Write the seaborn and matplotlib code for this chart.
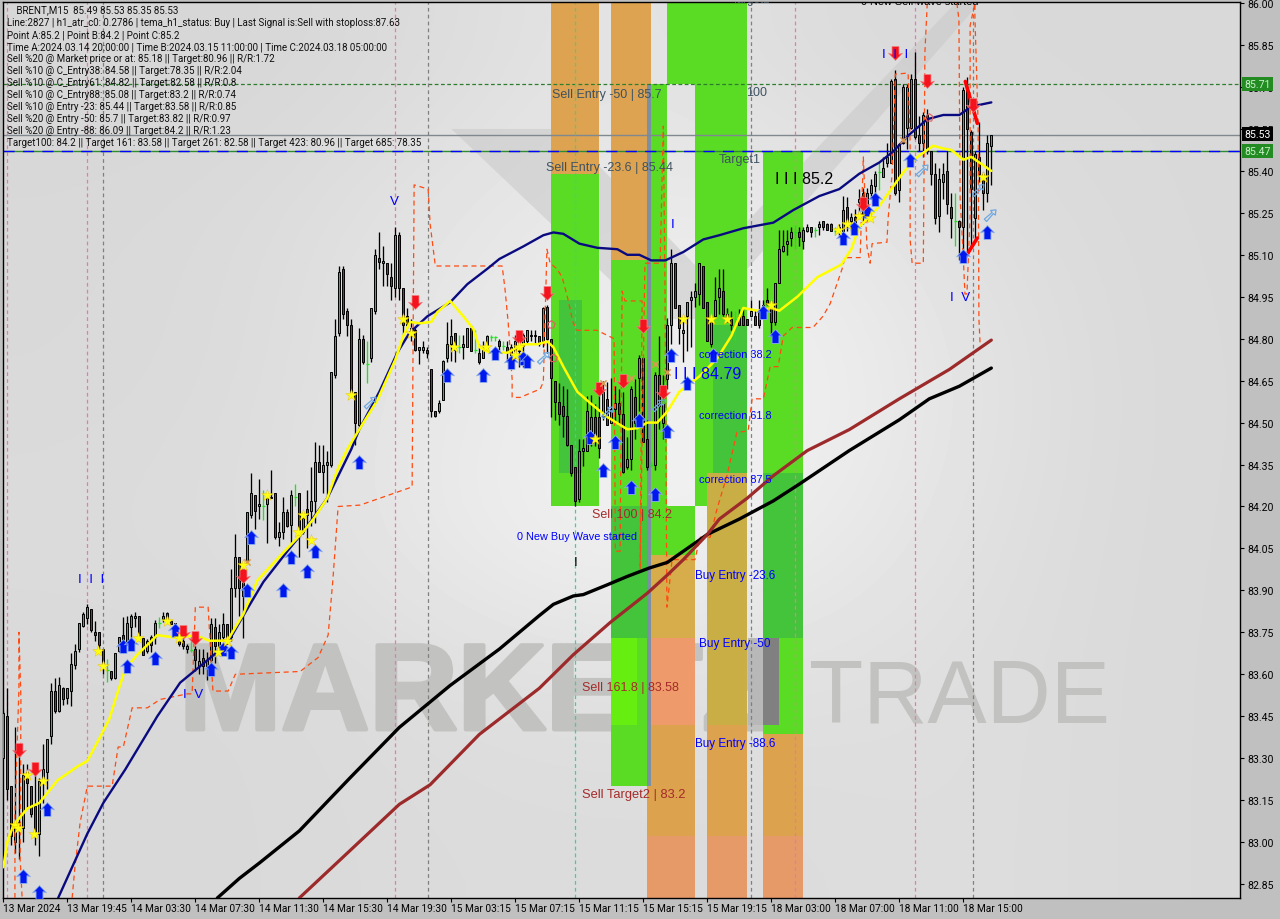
import numpy as np
import pandas as pd
import seaborn as sns
import matplotlib
matplotlib.use("Agg")
import matplotlib.pyplot as plt
import matplotlib.patheffects as pe
from matplotlib.path import Path
from matplotlib.patches import Polygon

sns.set_theme(style="white")
plt.rcParams["font.family"] = ["Liberation Sans", "DejaVu Sans"]

# ---------- price candles ----------
opens = [83.30,83.45,83.20,83.00,83.07,83.05,83.25,83.20,83.13,83.03,
 83.23,83.25,83.38,83.54,83.47,83.55,83.515,83.54,83.633,83.69,
 83.773,83.80,83.835,83.752,83.752,83.69,83.615,83.612,83.585,83.683,
 83.74,83.716,83.77,83.80,83.81,83.73,83.684,83.734,83.734,83.782,
 83.797,83.82,83.79,83.782,83.74,83.72,83.69,83.686,83.69,83.63,
 83.66,83.63,83.65,83.77,83.70,83.735,83.78,83.735,83.91,84.02,
 83.975,84.00,84.17,84.24,84.20,84.20,84.21,84.235,84.25,84.09,
 84.11,84.18,84.135,84.235,84.25,84.11,84.19,84.185,84.22,84.36,
 84.325,84.35,84.35,84.67,84.82,85.05,84.90,84.85,84.61,84.49,
 84.80,84.71,84.73,84.90,85.09,85.07,85.07,85.02,84.98,85.17,
 84.98,84.88,84.84,84.83,84.76,84.76,84.76,84.69,84.54,84.54,
 84.58,84.73,84.78,84.82,84.77,84.77,84.77,84.84,84.76,84.75,
 84.73,84.755,84.805,84.805,84.79,84.775,84.77,84.74,84.755,84.775,
 84.775,84.79,84.815,84.81,84.81,84.79,84.915,84.80,84.65,84.575,
 84.56,84.525,84.42,84.34,84.225,84.40,84.40,84.45,84.52,84.52,
 84.52,84.585,84.50,84.55,84.57,84.53,84.34,84.37,84.59,84.66,
 84.73,84.44,84.35,84.35,84.67,84.50,84.655,84.85,85.07,84.92,
 84.82,84.88,84.94,84.95,84.96,85.06,84.93,84.78,84.88,84.95,
 84.97,84.89,84.87,84.87,84.88,84.88,84.87,84.88,84.88,84.895,
 84.905,84.94,84.925,84.86,85.00,85.115,85.14,85.16,85.18,85.18,
 85.15,85.185,85.20,85.19,85.20,85.22,85.21,85.21,85.185,85.18,
 85.185,85.27,85.22,85.235,85.29,85.32,85.25,85.32,85.345,85.395,
 85.38,85.43,85.43,85.73,85.33,85.50,85.555,85.555,85.73,85.53,
 85.50,85.60,85.47,85.39,85.24,85.36,85.40,85.27,85.22,85.22,
 85.20,85.69,85.54,85.23,85.45,85.39,85.32,85.49]
highs = [83.47,83.55,83.20,83.41,83.34,83.28,83.28,83.20,83.27,83.23,
 83.35,83.37,83.57,83.585,83.59,83.555,83.55,83.675,83.71,83.784,
 83.824,83.853,83.835,83.79,83.752,83.69,83.653,83.612,83.675,83.734,
 83.806,83.81,83.817,83.824,83.81,83.73,83.727,83.74,83.794,83.806,
 83.824,83.824,83.794,83.782,83.752,83.728,83.71,83.74,83.70,83.69,
 83.69,83.68,83.80,83.80,83.78,83.82,83.78,83.975,84.10,84.02,
 83.975,84.18,84.32,84.24,84.30,84.26,84.245,84.33,84.25,84.145,
 84.235,84.19,84.26,84.28,84.25,84.18,84.26,84.34,84.43,84.42,
 84.42,84.40,84.68,84.87,85.06,85.06,84.91,84.87,84.61,84.84,
 84.815,84.79,84.91,85.12,85.18,85.13,85.07,85.07,85.20,85.18,
 84.98,84.91,84.87,84.84,84.77,84.79,84.77,84.69,84.54,84.58,
 84.725,84.86,84.87,84.82,84.815,84.815,84.84,84.85,84.83,84.78,
 84.79,84.815,84.815,84.81,84.80,84.79,84.79,84.78,84.815,84.815,
 84.82,84.83,84.83,84.83,84.81,84.915,84.92,84.80,84.65,84.64,
 84.63,84.62,84.42,84.34,84.44,84.44,84.595,84.60,84.565,84.63,
 84.65,84.645,84.66,84.63,84.62,84.61,84.45,84.63,84.655,84.74,
 84.735,84.51,84.36,84.68,84.81,84.67,84.875,85.12,85.07,84.92,
 84.87,84.93,84.97,85.00,85.07,85.06,84.93,84.88,85.02,85.05,
 85.05,84.91,84.90,84.90,84.905,84.91,84.87,84.94,84.905,84.94,
 84.94,84.98,84.94,85.00,85.19,85.19,85.19,85.20,85.205,85.20,
 85.20,85.21,85.20,85.20,85.22,85.22,85.215,85.215,85.20,85.21,
 85.31,85.305,85.25,85.265,85.335,85.34,85.34,85.37,85.40,85.43,
 85.45,85.50,85.73,85.76,85.50,85.71,85.71,85.745,85.825,85.595,
 85.61,85.62,85.47,85.43,85.41,85.43,85.47,85.32,85.32,85.225,
 85.70,85.735,85.545,85.47,85.575,85.395,85.53,85.53]
lows = [83.30,83.15,82.99,82.96,82.94,83.00,83.12,83.09,82.99,82.95,
 83.14,83.19,83.35,83.46,83.465,83.49,83.495,83.485,83.62,83.68,
 83.77,83.78,83.75,83.72,83.68,83.60,83.573,83.58,83.583,83.68,
 83.675,83.71,83.716,83.77,83.73,83.67,83.675,83.68,83.71,83.764,
 83.788,83.782,83.78,83.746,83.70,83.69,83.675,83.68,83.61,83.60,
 83.60,83.58,83.64,83.64,83.69,83.725,83.72,83.72,83.875,83.81,
 83.73,84.00,84.16,84.12,84.155,84.15,84.07,84.23,84.083,84.06,
 84.083,84.125,84.07,84.20,84.02,84.10,84.05,84.13,84.14,84.325,
 84.25,84.215,84.34,84.66,84.81,84.87,84.81,84.59,84.42,84.476,
 84.71,84.64,84.715,84.89,85.05,84.99,84.99,84.94,84.95,84.94,
 84.815,84.84,84.79,84.755,84.71,84.75,84.73,84.52,84.52,84.535,
 84.58,84.715,84.72,84.715,84.75,84.727,84.77,84.755,84.75,84.71,
 84.73,84.755,84.79,84.79,84.755,84.76,84.715,84.70,84.73,84.70,
 84.70,84.78,84.79,84.78,84.775,84.77,84.75,84.52,84.51,84.49,
 84.45,84.415,84.31,84.20,84.215,84.345,84.40,84.415,84.415,84.375,
 84.51,84.49,84.50,84.50,84.49,84.32,84.335,84.33,84.44,84.54,
 84.43,84.33,84.34,84.33,84.476,84.44,84.62,84.78,84.91,84.78,
 84.715,84.755,84.77,84.915,84.92,84.91,84.79,84.77,84.88,84.89,
 84.88,84.86,84.83,84.79,84.85,84.85,84.85,84.88,84.85,84.84,
 84.88,84.92,84.81,84.85,85.00,85.11,85.10,85.13,85.12,85.13,
 85.12,85.18,85.165,85.165,85.17,85.19,85.19,85.185,85.17,85.165,
 85.17,85.185,85.185,85.17,85.235,85.21,85.22,85.30,85.30,85.33,
 85.38,85.415,85.43,85.315,85.29,85.495,85.48,85.55,85.515,85.47,
 85.45,85.46,85.35,85.21,85.18,85.30,85.245,85.16,85.13,85.08,
 85.075,85.11,85.13,85.16,85.36,85.26,85.29,85.35]
closes = [83.46,83.19,83.02,83.07,83.06,83.24,83.21,83.10,83.04,83.22,
 83.26,83.37,83.54,83.47,83.56,83.51,83.55,83.635,83.684,83.784,
 83.814,83.84,83.76,83.74,83.704,83.64,83.615,83.585,83.675,83.734,
 83.687,83.784,83.81,83.81,83.74,83.67,83.72,83.704,83.784,83.782,
 83.81,83.788,83.78,83.752,83.71,83.70,83.70,83.686,83.65,83.648,
 83.63,83.65,83.78,83.70,83.75,83.78,83.735,83.91,84.02,83.91,
 83.88,84.18,84.25,84.185,84.21,84.20,84.235,84.23,84.09,84.11,
 84.18,84.13,84.24,84.235,84.12,84.16,84.17,84.22,84.36,84.325,
 84.35,84.36,84.68,84.81,85.04,84.89,84.85,84.61,84.50,84.80,
 84.715,84.71,84.91,85.10,85.075,85.077,85.03,84.99,85.17,84.98,
 84.85,84.85,84.815,84.76,84.77,84.77,84.75,84.54,84.525,84.57,
 84.72,84.78,84.81,84.76,84.77,84.78,84.84,84.755,84.76,84.715,
 84.76,84.81,84.805,84.805,84.775,84.775,84.755,84.77,84.79,84.755,
 84.815,84.83,84.81,84.815,84.78,84.91,84.80,84.66,84.575,84.53,
 84.525,84.42,84.32,84.22,84.40,84.41,84.54,84.52,84.43,84.41,
 84.61,84.49,84.55,84.57,84.53,84.325,84.37,84.62,84.50,84.73,
 84.43,84.34,84.35,84.67,84.56,84.565,84.85,85.07,84.91,84.84,
 84.83,84.93,84.95,84.97,85.07,84.91,84.79,84.87,84.94,84.98,
 84.89,84.87,84.85,84.87,84.85,84.85,84.85,84.90,84.85,84.85,
 84.92,84.925,84.86,85.00,85.12,85.13,85.15,85.18,85.18,85.165,
 85.19,85.20,85.18,85.19,85.21,85.20,85.19,85.185,85.185,85.20,
 85.26,85.215,85.235,85.20,85.30,85.245,85.32,85.35,85.39,85.395,
 85.41,85.45,85.72,85.32,85.495,85.70,85.70,85.73,85.52,85.50,
 85.60,85.47,85.39,85.23,85.37,85.39,85.28,85.23,85.22,85.20,
 85.69,85.55,85.335,85.46,85.39,85.32,85.50,85.53]

# ---------- moving averages (bar number, price) ----------
navy_x = [13.7,21,25,30.5,38.5,44.2,51,56,60,65,71,75,81,87,89,94,98.5,101.5,106,111.7,116,121,124,130,135,137.5,140,144,148.5,153.5,156,159,162,165.5,170,175,179,185,192.5,197.5,204,209,214,219,222.5,226.5,231,235,239,242,247]
navy_y = [82.80,83.03,83.14,83.26,83.45,83.57,83.65,83.71,83.81,83.93,84.04,84.11,84.23,84.405,84.476,84.61,84.75,84.82,84.88,84.93,84.995,85.05,85.085,85.13,85.17,85.18,85.175,85.14,85.125,85.12,85.10,85.10,85.08,85.08,85.11,85.155,85.17,85.195,85.215,85.26,85.31,85.335,85.39,85.43,85.47,85.53,85.585,85.60,85.60,85.63,85.645]
yellow_x = [0,1,2.5,6,9,13.5,18.5,21,24,26.5,28.7,30.5,33.5,38.5,43.5,48,51.5,56,60,63.5,69,75,77.5,81,83.5,86,89,93.5,98,100,101.7,104,107,108.5,111.7,115,117.5,119,121.5,126,130,133.5,136,137.5,140,143.5,146.7,151,156,158.5,161,163.5,166,169,174,178.5,182,185,188.5,192,194,198.5,203.5,209.5,212,214,218.5,222.5,225,228.5,232.5,235,237,240,242,247]
yellow_y = [82.91,83.0,83.06,83.12,83.14,83.22,83.27,83.29,83.37,83.44,83.54,83.62,83.67,83.74,83.73,83.74,83.72,83.72,83.815,83.935,84.02,84.11,84.155,84.23,84.33,84.405,84.476,84.58,84.725,84.81,84.86,84.855,84.86,84.895,84.935,84.88,84.835,84.77,84.75,84.75,84.78,84.78,84.79,84.77,84.70,84.61,84.57,84.52,84.476,84.48,84.50,84.50,84.54,84.61,84.665,84.73,84.81,84.91,84.90,84.91,84.90,84.95,85.02,85.065,85.12,85.20,85.265,85.345,85.395,85.45,85.49,85.48,85.475,85.44,85.45,85.40]
black_x = [53.5,59,64,74,86.7,99,111.7,124,134,137.5,142.5,145,151,156,161.5,166,170,176,184,192.5,199,211.5,224,231.5,239,247]
black_y = [82.80,82.87,82.925,83.04,83.23,83.41,83.56,83.69,83.81,83.85,83.88,83.885,83.92,83.95,83.98,84.00,84.04,84.10,84.155,84.22,84.28,84.40,84.51,84.585,84.63,84.695]
brown_x = [74,86.7,99,106.7,119,134,142.5,151.7,161,166,170,176,179,186,192.5,201,211.5,224,236.5,247]
brown_y = [82.80,82.97,83.135,83.205,83.385,83.55,83.67,83.785,83.89,83.955,84.01,84.10,84.155,84.23,84.31,84.40,84.475,84.585,84.69,84.795]

# ---------- dashed orange channel, three stretches ----------
orange1_x = [2.9,2.9,3.9,3.9,4.4,4.2,4.7]
orange1_y = [82.80,83.10,83.55,83.75,83.51,82.94,82.80]
orange2_x = [17.2,17.9,19.2,21,27.2,28.7,30,32.2,36,39.2,46,47.2,48,51.2,52.4,56.2,58,74.2,78.7,81.2,82.4,83.7,89.2,102.2,102.7,106.2,106.7,108,124.7,125.4,126.2,127.2,127.2,129.2,134.2,135,135.9,136.7,138.4,139.7,141,142.4,143.4,148.4,152.7,153,154.2,154.7,155.4,159.7,159.2,160.4,164.2,165,165.4,165.9,167.2,172.9,174.2,176.7,178.4,180.9,183.4,186.2,187.2,190,191.7,193.7,195,197.2,202.4,204.9,206.7,209.7,210.4,214.2,215,215.9,216.7,217.2,220.9,221.2,222.2,223,226.2,226.7,226.7,227.2,230,230.4,231]
orange2_y = [82.80,82.91,83.07,83.20,83.20,83.34,83.34,83.48,83.48,83.51,83.53,83.53,83.84,83.84,83.54,83.54,83.60,83.61,83.66,83.74,83.94,84.20,84.205,84.27,85.35,85.335,85.21,85.06,85.06,84.98,84.86,84.655,84.59,84.59,84.62,84.645,85.12,85.07,85.05,85.02,84.95,84.86,84.83,84.83,84.80,84.04,84.04,84.97,84.935,84.935,83.975,85.07,85.07,85.56,85.01,83.84,84.01,84.01,84.09,84.09,84.19,84.31,84.465,84.47,84.585,84.585,84.70,84.70,84.81,84.84,84.84,84.88,84.925,85.05,85.09,85.09,85.45,85.13,85.07,85.14,85.145,85.23,85.39,85.746,85.75,85.50,85.155,85.07,85.07,85.825,86.004]
orange3_x = [238.4,238.9,239.2,239.9,240.4,240.9,241.7,241.7,242.9,242.9,243.7,243.9,244.2]
orange3_y = [86.0,85.94,85.30,85.12,84.96,84.96,85.24,85.92,86.0,85.95,85.57,84.87,84.78]

# ---------- Fibonacci zones ----------
band_left  = [136.9,136.9,151.9,151.9,151.9,161.9,161.9,165.9,172.9,175.9,160.9,160.9,160.9,175.9,175.9,189.9,189.9,160.9,175.9,189.9,160.9,186.2,189.9]
band_right = [148.9,148.9,161.9,160.9,158.4,165.9,172.9,185.9,175.9,185.9,172.9,172.9,172.9,185.9,185.9,199.9,199.9,172.9,185.9,199.9,161.9,189.9,193.9]
band_low   = [85.39,84.20,85.08,83.20,83.42,84.20,84.025,85.71,84.20,84.32,83.73,83.42,82.80,83.42,82.80,83.385,82.80,82.80,82.80,82.80,83.20,83.42,83.42]
band_high  = [86.004,85.39,86.004,85.08,83.73,85.71,84.20,86.004,85.71,85.71,84.025,83.73,83.42,84.32,83.42,85.47,83.385,83.02,83.02,83.02,85.71,83.73,83.73]
band_shade = ["#DDA350","#5ADB24","#DDA350","#5ADB24","#66EE11","#5ADB24","#5ADB24","#5ADB24","#5ADB24","#5ADB24","#D6AD4A","#EE9A6B","#DDA24E","#C9AE45","#DDA24E","#5ADB24","#DDA24E","#E59A68","#E59A68","#E59A68","#7D8FA3","#B8B8B8","#808080"]
patch_left  = [139,151.9,177.5,189.9]
patch_right = [144.7,160.9,185.9,199.9]
patch_low   = [84.32,83.73,84.32,83.73]
patch_high  = [84.94,84.20,84.85,84.32]

# ---------- signals ----------
blue_x = [4.9,8.9,11,30,32,31,38,43,52,55,57,62,72,76,78,70,61,89,111,120,123,127,130,131,167,177.5,171,190,193,146.7,150,153,157,159,163,166,210,212.7,216,218,226.7,246,240]
blue_y = [82.88,82.82,83.12,83.70,83.71,83.63,83.66,83.76,83.62,83.69,83.68,84.09,84.02,83.97,84.04,83.90,83.90,84.36,84.67,84.67,84.75,84.715,84.73,84.72,84.74,84.74,84.64,84.895,84.81,84.45,84.33,84.43,84.27,84.51,84.245,84.47,85.16,85.195,85.255,85.30,85.44,85.18,85.095]
red_x = [4,8,45,48,60,103,129,136,149,155,160,165,215,223,231,242.5]
red_y = [83.33,83.26,83.75,83.73,83.95,84.93,84.805,84.965,84.62,84.65,84.845,84.61,85.28,85.82,85.72,85.635]
star_x = [3,3.7,6,10,7.7,23.7,25,33.7,41,44,53.7,56,60,66,73.7,75,77,87,100,102,112.7,120.7,128,129,148,170,177,181,192,208.7,211,214,216.7,245]
star_y = [83.06,83.05,83.24,83.22,83.03,83.685,83.63,83.73,83.79,83.73,83.68,83.72,83.99,84.24,84.11,84.17,84.08,84.60,84.87,84.82,84.77,84.77,84.74,84.77,84.44,84.87,84.87,84.87,84.92,85.19,85.21,85.24,85.23,85.38]
hollow_x = [91.7,135,151,163.7,229.7,243.7,246.7]
hollow_y = [84.57,84.73,84.535,84.56,85.40,85.33,85.24]
cross_x = [61,150,157,163,166,225]
cross_y = [84.00,84.64,84.66,84.71,84.68,85.51]
square_x = [137,137.5,231.5]
square_y = [84.85,84.73,85.59]
wave_up_x = [240,243.5]
wave_up_y = [85.08,85.16]
wave_dn_x = [240.5,243.5]
wave_dn_y = [85.72,85.57]

price_ticks = [86.00,85.85,85.70,85.55,85.40,85.25,85.10,84.95,84.80,84.65,84.50,84.35,84.20,84.05,83.90,83.75,83.60,83.45,83.30,83.15,83.00,82.85]
time_labels = ["13 Mar 2024","13 Mar 19:45","14 Mar 03:30","14 Mar 07:30","14 Mar 11:30","14 Mar 15:30","14 Mar 19:30","15 Mar 03:15","15 Mar 07:15","15 Mar 11:15","15 Mar 15:15","15 Mar 19:15","18 Mar 03:00","18 Mar 07:00","18 Mar 11:00","18 Mar 15:00"]
header_lines = [
 "    BRENT,M15  85.49 85.53 85.35 85.53",
 "Line:2827 | h1_atr_c0: 0.2786 | tema_h1_status: Buy | Last Signal is:Sell with stoploss:87.63",
 "Point A:85.2 | Point B:84.2 | Point C:85.2",
 "Time A:2024.03.14 20:00:00 | Time B:2024.03.15 11:00:00 | Time C:2024.03.18 05:00:00",
 "Sell %20 @ Market price or at: 85.18 || Target:80.96 || R/R:1.72",
 "Sell %10 @ C_Entry38: 84.58 || Target:78.35 || R/R:2.04",
 "Sell %10 @ C_Entry61: 84.82 || Target:82.58 || R/R:0.8",
 "Sell %10 @ C_Entry88: 85.08 || Target:83.2 || R/R:0.74",
 "Sell %10 @ Entry -23: 85.44 || Target:83.58 || R/R:0.85",
 "Sell %20 @ Entry -50: 85.7 || Target:83.82 || R/R:0.97",
 "Sell %20 @ Entry -88: 86.09 || Target:84.2 || R/R:1.23",
 "Target100: 84.2 || Target 161: 83.58 || Target 261: 82.58 || Target 423: 80.96 || Target 685: 78.35",
]

W, H = 1280, 920
fig = plt.figure(figsize=(W/100, H/100), dpi=100, facecolor="#C0C0C0")
ax = fig.add_axes([3/W, 1-899/H, 1237/W, 896/H])
ax.set_xlim(-0.083, 309.17)
ax.set_ylim(82.80, 86.004)
ax.set_facecolor("#D9D9D7")

def figtxt(px, py, s, **kw):
    kw.setdefault("va", "center")
    kw.setdefault("ha", "left")
    return fig.text(px/W, 1-py/H, s, **kw)

# background sheen
sheen = np.array([[.84,.84,.86,.90,.86,.85,.85],
                  [.85,.86,.90,.92,.92,.87,.85],
                  [.85,.86,.91,.93,.95,.89,.85],
                  [.86,.87,.92,.96,.93,.88,.85],
                  [.85,.85,.87,.88,.88,.87,.85],
                  [.85,.85,.86,.86,.86,.87,.85]])
ax.imshow(sheen, cmap="gray", vmin=0, vmax=1, aspect="auto", interpolation="bicubic",
          extent=[-0.083, 309.17, 82.80, 86.004], zorder=0)

# logo stripes + watermark
for pts in ([(112,85.55),(140,85.55),(186,84.87),(162,84.87)],
            ((178,85.1),(238,86.0),(244,86.0),(186,85.05))):
    ax.add_patch(Polygon(pts, closed=True, fc="#C8C8C8", ec="none", alpha=.55, zorder=.2))
ax.text(44, 83.403, "MARKETZ", fontsize=88, fontweight="bold", color="#C2C2C0",
        family="Liberation Sans", va="baseline", ha="left", zorder=.3,
        path_effects=[pe.withStroke(linewidth=3, foreground="#C2C2C0")])
ax.text(201.5, 83.43, "TRADE", fontsize=64, color="#C2C2C0",
        family="Liberation Sans", va="baseline", ha="left", zorder=.3)

# zones
bw = np.array(band_right) - np.array(band_left)
ax.bar(band_left, np.array(band_high)-np.array(band_low), width=bw, bottom=band_low,
       align="edge", color=band_shade, linewidth=0, zorder=1)
pw = np.array(patch_right) - np.array(patch_left)
ax.bar(patch_left, np.array(patch_high)-np.array(patch_low), width=pw, bottom=patch_low,
       align="edge", color="#43C43A", linewidth=0, zorder=1.1)

# level lines
ax.axhline(85.71, color="#2E7D2E", lw=.9, ls=(0, (3, 2)), zorder=2)
ax.axhline(85.53, color="#808890", lw=1.0, zorder=2)
ax.axhline(85.47, color="#2E8B2E", lw=1.0, zorder=2)
ax.axhline(85.47, color="#0000FF", lw=1.0, ls=(0, (8, 6)), zorder=2.1)

# session separators
for xv, c in ((0.9, "#E87AA8"), (20.9, "#E87AA8"), (24.9, "#808080"), (97.9, "#E87AA8"),
              (106.2, "#808080"), (142.9, "#30D890"), (186.9, "#808080"), (197.9, "#E87AA8"),
              (227.9, "#E87AA8"), (242.4, "#808080")):
    ax.axvline(xv, color=c, lw=.9, ls=(0, (3, 2.5)), zorder=2)

# candles
idx = np.arange(len(opens))
o, h, l, c = map(np.array, (opens, highs, lows, closes))
flat = o == c
ax.vlines(idx[~flat], l[~flat], h[~flat], color="black", lw=.95, zorder=3)
ax.vlines(idx[flat], l[flat], h[flat], color="#22E022", lw=.95, zorder=3)
ax.hlines(o[flat], idx[flat]-.45, idx[flat]+.45, color="#22E022", lw=.95, zorder=3)
up = c > o
dn = c < o
ax.bar(idx[up], (c-o)[up], bottom=o[up], width=.58, color="#27B673", edgecolor="black", linewidth=.7, zorder=3.2)
ax.bar(idx[dn], (o-c)[dn], bottom=c[dn], width=.58, color="#A32A3C", edgecolor="black", linewidth=.7, zorder=3.2)

# orange channel
for xs, ys in ((orange1_x, orange1_y), (orange2_x, orange2_y), (orange3_x, orange3_y)):
    sns.lineplot(x=xs, y=ys, ax=ax, sort=False, estimator=None, color="#FF4A10", lw=.9,
                 linestyle=(0, (4, 3)), zorder=3.5, legend=False)

# averages
for xs, ys, col, lw, zo in ((black_x, black_y, "black", 2.4, 4),
                            (brown_x, brown_y, "#9C2A2A", 2.3, 4.1),
                            (navy_x, navy_y, "#0A0A80", 1.7, 4.2),
                            (yellow_x, yellow_y, "#FFFF00", 1.8, 4.3)):
    frame = pd.DataFrame({"bar": xs, "price": ys})
    sns.lineplot(data=frame, x="bar", y="price", ax=ax, sort=False, estimator=None,
                 color=col, lw=lw, zorder=zo, legend=False)
ax.set_xlabel("")
ax.set_ylabel("")

# wave strokes
ax.plot(wave_up_x, wave_up_y, color="#FF0000", lw=2.6, zorder=4.6)
ax.plot(wave_dn_x, wave_dn_y, color="#FF0000", lw=2.6, zorder=4.6)

# markers
up_arrow = Path([(0, 1), (1, -.05), (.5, .12), (.5, -1), (-.5, -1), (-.5, .12), (-1, -.05), (0, 1)], closed=True)
dn_arrow = Path([(0, -1), (1, .05), (.5, -.12), (.5, 1), (-.5, 1), (-.5, -.12), (-1, .05), (0, -1)], closed=True)
hollow_arrow = Path([(1, 1), (.1, .9), (.35, .55), (-1, -.6), (-.6, -1), (.55, .35), (.9, .1), (1, 1)], closed=True)
ax.scatter(blue_x, blue_y, marker=up_arrow, s=100, color="#0018F0", edgecolors="#8FB0EA", linewidths=.6, zorder=5)
ax.scatter(red_x, red_y, marker=dn_arrow, s=100, color="#F5141E", edgecolors="#F08080", linewidths=.5, zorder=5)
ax.scatter(star_x, star_y, marker="*", s=75, color="#FFFF10", edgecolors="#E8C000", linewidths=.3, zorder=5.1)
ax.scatter(hollow_x, hollow_y, marker=hollow_arrow, s=70, facecolors="none", edgecolors="#6FA8E0", linewidths=.9, zorder=5)
ax.scatter(cross_x, cross_y, marker="x", s=20, color="#D89A50", linewidths=1.1, zorder=5)
ax.scatter(square_x, square_y, marker="p", s=34, facecolors="none", edgecolors="#E06060", linewidths=.8, zorder=5)

# frame and axes
for sp in ax.spines.values():
    sp.set_visible(True)
    sp.set_color("black")
    sp.set_linewidth(1.0)
ax.yaxis.tick_right()
ax.set_yticks(price_ticks)
ax.set_yticklabels([f"{v:.2f}" for v in price_ticks], fontsize=7.6, color="black", family="Roboto")
ax.set_xticks(np.arange(len(time_labels))*16)
ax.set_xticklabels([])
ax.tick_params(axis="y", length=3, width=.8, color="black", pad=2, right=True)
ax.tick_params(axis="x", length=3, width=.8, color="black", bottom=True)
for k, lab in enumerate(time_labels):
    figtxt(3+64*k, 909, lab, fontsize=7.3, color="black", family="Roboto")

# price tags
for val, py, bg, fg in ((85.71, 85, "#228B22", "#C8F0C8"), (85.53, 135, "black", "white"), (85.47, 152, "#228B22", "#C8F0C8")):
    figtxt(1244, py, f"{val:.2f}", fontsize=7.6, color=fg, family="Roboto",
           bbox=dict(boxstyle="square,pad=0.22", fc=bg, ec="none"))

# header block
for k, line in enumerate(header_lines):
    figtxt(7, 11+12*k if k else 10, line, fontsize=7.0, color="#101010", family="Roboto")

# chart annotations
slate = "#3E5262"
brown = "#A52A2A"
for px, py, s, col, fs in ((552, 95, "Sell Entry -50 | 85.7", slate, 9.0),
                           (546, 168, "Sell Entry -23.6 | 85.44", slate, 9.0),
                           (746, 93, "100", slate, 9.0),
                           (719, 160, "Target1", slate, 9.0),
                           (699, 355, "correction 38.2", "#0000FF", 7.8),
                           (699, 416, "correction 61.8", "#0000FF", 7.8),
                           (699, 480, "correction 87.5", "#0000FF", 7.8),
                           (592, 515, "Sell 100 | 84.2", brown, 9.0),
                           (517, 537, "0 New Buy Wave started", "#0000FF", 7.8),
                           (695, 576, "Buy Entry -23.6", "#0000FF", 8.4),
                           (699, 644, "Buy Entry -50", "#0000FF", 8.5),
                           (582, 688, "Sell 161.8 | 83.58", brown, 9.0),
                           (695, 744, "Buy Entry -88.6", "#0000FF", 8.4),
                           (582, 795, "Sell Target2 | 83.2", brown, 9.3),
                           (78, 580, "I  I  I", "#0000FF", 9.6),
                           (183, 695, "I  V", "#0000FF", 9.6),
                           (390, 202, "V", "#0000FF", 9.6),
                           (671, 225, "I", "#0000FF", 9.6),
                           (882, 55, "I  I  I", "#0000FF", 9.6),
                           (950, 298, "I  V", "#0000FF", 9.6),
                           (574, 563, "I", "black", 9.6),
                           (775, 180, "I I I 85.2", "black", 11.5),
                           (674, 375, "I I I 84.79", "#0000FF", 11.5)):
    figtxt(px, py, s, fontsize=fs, color=col)
ax.text(214.3, 86.006, "0 New Sell wave started", fontsize=7.8, color="black", va="center", ha="left", clip_on=True, zorder=6)
ax.text(182, 86.014, "Target2", fontsize=8.3, color=slate, va="center", ha="left", clip_on=True, zorder=6)

fig.savefig("out.png", dpi=100, facecolor=fig.get_facecolor())
